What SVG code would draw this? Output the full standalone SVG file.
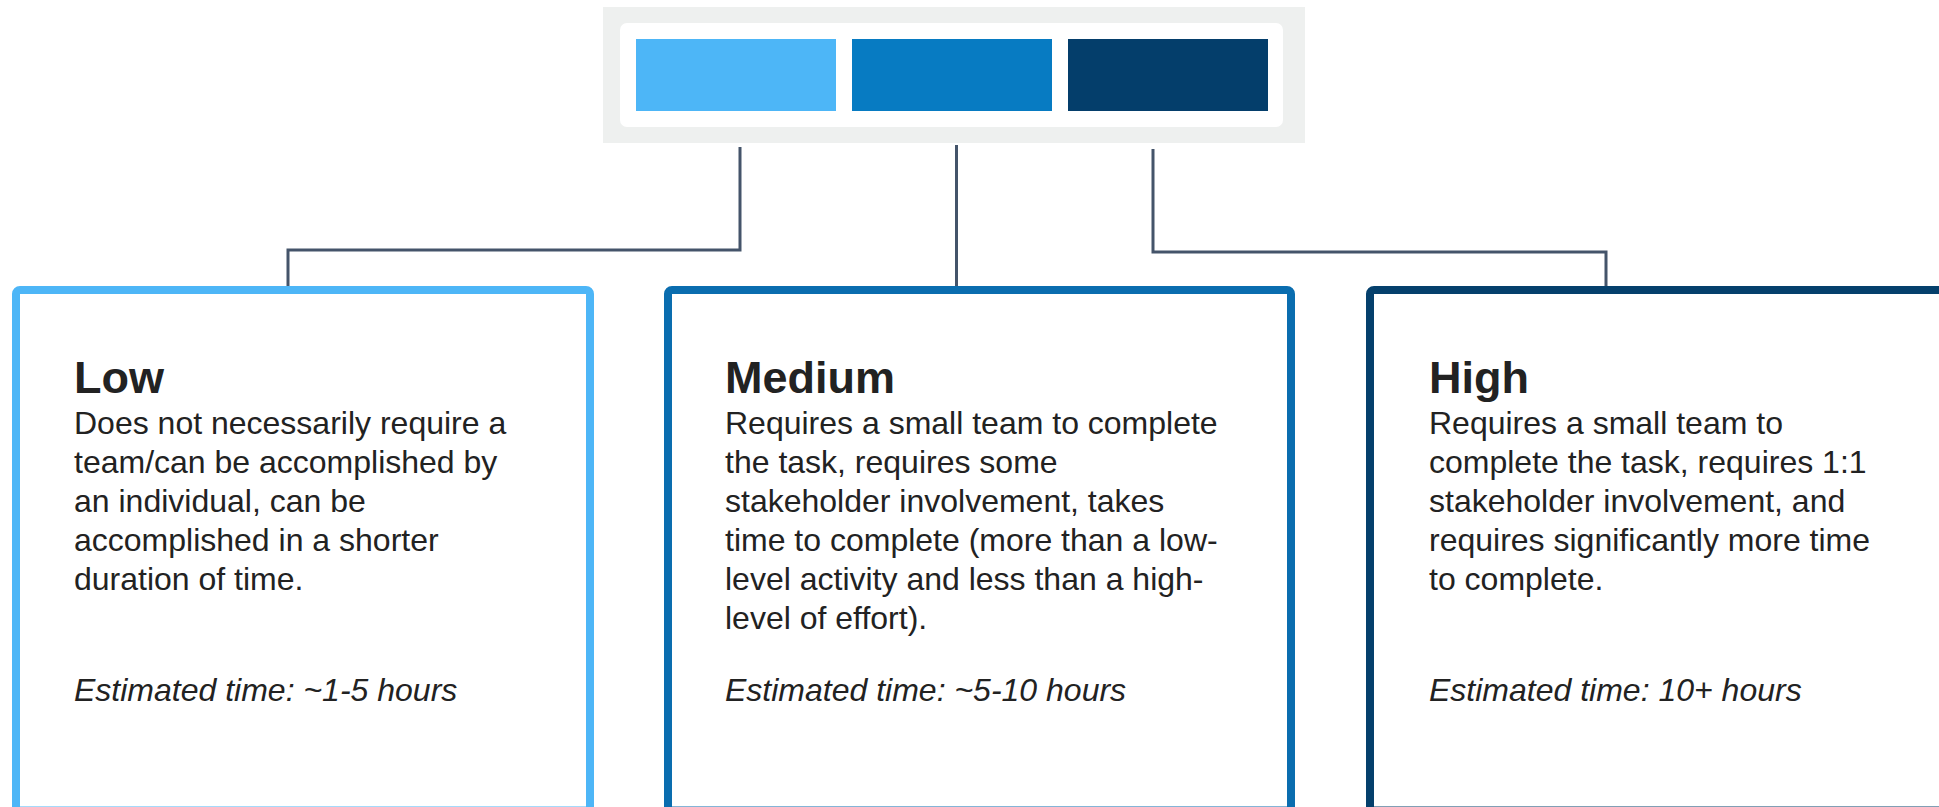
<svg xmlns="http://www.w3.org/2000/svg" width="1939" height="807" viewBox="0 0 1939 807">
<style>
.conn{fill:none;stroke:#44546A;stroke-width:3}
.box{fill:#fff;stroke-width:8}
.title{font-family:"Liberation Sans",Arial,Helvetica,sans-serif;font-size:45px;font-weight:bold;fill:#222}
.body{font-family:"Liberation Sans",Arial,Helvetica,sans-serif;font-size:32px;fill:#222}
.est{font-family:"Liberation Sans",Arial,Helvetica,sans-serif;font-size:32px;font-style:italic;fill:#222}
</style>
<rect width="1939" height="807" fill="#fff"/>
<g id="legend">
<rect x="603" y="7" width="702" height="136" fill="#EEF0EF"/>
<rect x="620" y="23" width="663" height="104" rx="7" fill="#fff"/>
<rect x="636" y="39" width="200" height="72" fill="#4DB6F7"/>
<rect x="852" y="39" width="200" height="72" fill="#077BC2"/>
<rect x="1068" y="39" width="200" height="72" fill="#043E6B"/>
</g>
<g id="connectors">
<path class="conn" d="M740 147 V250 H288 V287"/>
<path class="conn" d="M956.5 145 V287"/>
<path class="conn" d="M1153 149 V252 H1606 V287"/>
</g>
<g id="low">
<rect class="box" x="16" y="290" width="574" height="520.5" rx="4" stroke="#4DB6F7"/>
<text class="title" x="74" y="393">Low</text>
<text class="body" x="74" y="433.5">Does not necessarily require a</text>
<text class="body" x="74" y="472.5">team/can be accomplished by</text>
<text class="body" x="74" y="511.5">an individual, can be</text>
<text class="body" x="74" y="550.5">accomplished in a shorter</text>
<text class="body" x="74" y="589.5">duration of time.</text>
<text class="est" x="74" y="701">Estimated time: ~1-5 hours</text>
</g>
<g id="medium">
<rect class="box" x="668" y="290" width="623" height="520.5" rx="4" stroke="#0A6DAF"/>
<text class="title" x="725" y="393">Medium</text>
<text class="body" x="725" y="433.5">Requires a small team to complete</text>
<text class="body" x="725" y="472.5">the task, requires some</text>
<text class="body" x="725" y="511.5">stakeholder involvement, takes</text>
<text class="body" x="725" y="550.5">time to complete (more than a low-</text>
<text class="body" x="725" y="589.5">level activity and less than a high-</text>
<text class="body" x="725" y="628.5">level of effort).</text>
<text class="est" x="725" y="701">Estimated time: ~5-10 hours</text>
</g>
<g id="high">
<rect class="box" x="1370" y="290" width="623" height="520.5" rx="4" stroke="#05406C"/>
<text class="title" x="1429" y="393">High</text>
<text class="body" x="1429" y="433.5">Requires a small team to</text>
<text class="body" x="1429" y="472.5">complete the task, requires 1:1</text>
<text class="body" x="1429" y="511.5">stakeholder involvement, and</text>
<text class="body" x="1429" y="550.5">requires significantly more time</text>
<text class="body" x="1429" y="589.5">to complete.</text>
<text class="est" x="1429" y="701">Estimated time: 10+ hours</text>
</g>
</svg>
